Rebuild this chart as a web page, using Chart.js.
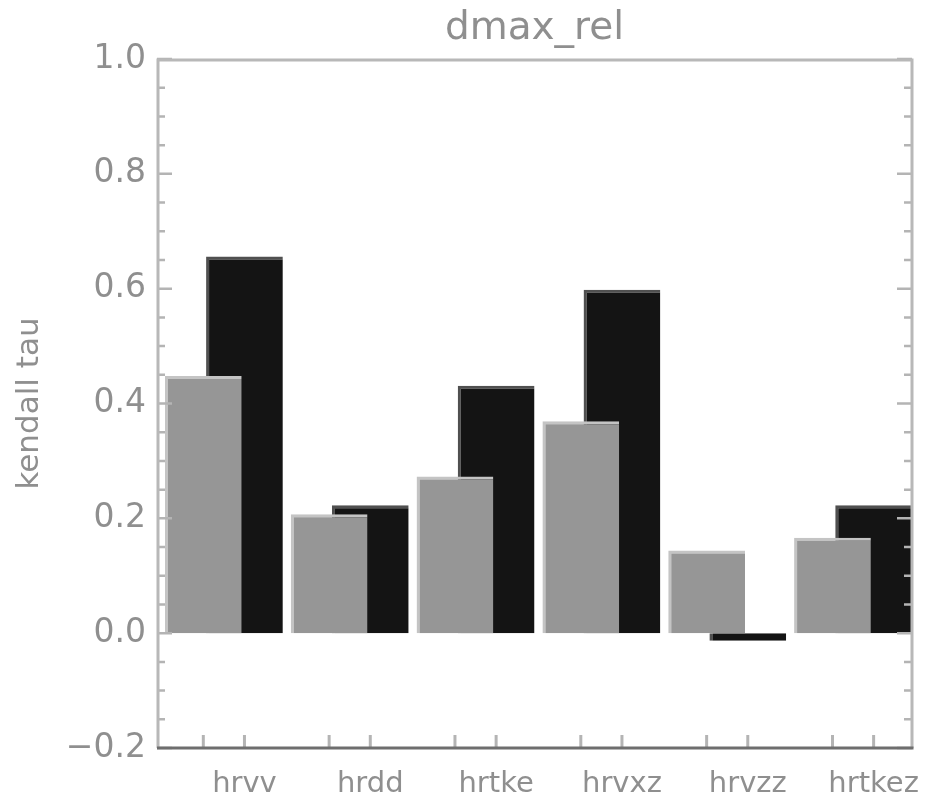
<!DOCTYPE html>
<html>
<head>
<meta charset="utf-8">
<script src="https://cdn.jsdelivr.net/npm/chart.js@4.4.1/dist/chart.umd.min.js"></script>
<style>
  html, body { margin: 0; padding: 0; background: #fff; }
  #wrap { width: 926px; height: 801px; }
</style>
</head>
<body>
<div id="wrap"><canvas id="grafico"></canvas></div>
<script>
const categorias = ['hrvv', 'hrdd', 'hrtke', 'hrvxz', 'hrvzz', 'hrtkez'];
const serieGris = [0.448, 0.207, 0.273, 0.369, 0.144, 0.166];
const serieNegra = [0.656, 0.223, 0.431, 0.598, -0.013, 0.223];
const Y_MIN = -0.2, Y_MAX = 1.0, Y_STEP = 0.2, Y_MINOR = 0.05;

// posicion de cada barra dentro de su hueco (fraccion de categoria)
const POS_GRIS = 0.368, POS_NEGRA = 0.695, ANCHO = 0.61;
const TEXTO = '#8f8f8f';
const FUENTE = 'DejaVu Sans';

// marco y marcas hacia dentro, como en IDL
const marco = {
    id: 'marco',
    afterDatasetsDraw(chart) {
        const { ctx, chartArea: a, scales: { x, y } } = chart;
        ctx.save();
        ctx.lineCap = 'butt';
        ctx.strokeStyle = '#b4b4b4';
        ctx.lineWidth = 2.5;
        const n = Math.round((Y_MAX - Y_MIN) / Y_MINOR);
        for (let i = 0; i <= n; i++) {
            const py = y.getPixelForValue(Y_MIN + i * Y_MINOR);
            const len = i % 4 === 0 ? 15 : 8;
            ctx.beginPath();
            ctx.moveTo(a.left, py); ctx.lineTo(a.left + len, py);
            ctx.moveTo(a.right, py); ctx.lineTo(a.right - len, py);
            ctx.stroke();
        }
        ctx.lineWidth = 3;
        x.ticks.forEach(t => {
            const px = x.getPixelForValue(t.value);
            ctx.beginPath();
            ctx.moveTo(px, a.bottom); ctx.lineTo(px, a.bottom - 13);
            ctx.stroke();
        });
        ctx.strokeStyle = '#b8b8b8';
        ctx.beginPath();
        ctx.moveTo(a.left + 1, a.bottom);
        ctx.lineTo(a.left + 1, a.top + 1);
        ctx.lineTo(a.right, a.top + 1);
        ctx.lineTo(a.right, a.bottom);
        ctx.stroke();
        ctx.strokeStyle = '#6e6e6e';
        ctx.beginPath();
        ctx.moveTo(a.left, a.bottom); ctx.lineTo(a.right + 1.5, a.bottom);
        ctx.stroke();
        ctx.restore();
    }
};

const ctx = document.getElementById('grafico').getContext('2d');
const chart = new Chart(ctx, {
    type: 'bar',
    data: {
        datasets: [
            {
                label: 'gris',
                data: categorias.map((c, i) => ({ x: i + POS_GRIS, y: serieGris[i] })),
                backgroundColor: '#969696',
                borderColor: '#c4c4c4',
                borderWidth: { top: 3, left: 3, right: 0, bottom: 0 },
                grouped: false,
                categoryPercentage: 1,
                barPercentage: ANCHO / (POS_NEGRA - POS_GRIS)
            },
            {
                label: 'negra',
                data: categorias.map((c, i) => ({ x: i + POS_NEGRA, y: serieNegra[i] })),
                backgroundColor: '#141414',
                borderColor: '#505050',
                borderWidth: { top: 3, left: 3, right: 0, bottom: 0 },
                grouped: false,
                categoryPercentage: 1,
                barPercentage: ANCHO / (POS_NEGRA - POS_GRIS)
            }
        ]
    },
    options: {
        responsive: true,
        maintainAspectRatio: false,
        animation: false,
        layout: { padding: { left: 0, right: 14, top: 0, bottom: 0 } },
        plugins: {
            legend: { display: false },
            tooltip: { enabled: false },
            title: {
                display: true,
                fullSize: false,
                text: 'dmax_rel',
                color: TEXTO,
                font: { family: FUENTE, size: 39, weight: 'normal', lineHeight: 1 },
                padding: { top: 9, bottom: 11 }
            }
        },
        scales: {
            x: {
                type: 'linear',
                offset: false,
                min: 0,
                max: categorias.length,
                grid: { display: false, drawTicks: false, offset: false },
                border: { display: false },
                afterBuildTicks: s => {
                    s.ticks = categorias.flatMap((c, i) => [{ value: i + POS_GRIS }, { value: i + POS_NEGRA }]);
                },
                afterFit: s => {
                    s.height = 53;
                    s.paddingLeft = 0;
                    s.paddingRight = 0;
                },
                ticks: {
                    autoSkip: false,
                    maxRotation: 0,
                    padding: 22,
                    color: TEXTO,
                    font: { family: FUENTE, size: 29, lineHeight: 1 },
                    callback: (v, i) => i % 2 ? categorias[(i - 1) / 2] : ''
                }
            },
            y: {
                min: Y_MIN,
                max: Y_MAX,
                grid: { display: false, drawTicks: false },
                border: { display: false },
                afterFit: s => { s.width = 157; },
                ticks: {
                    stepSize: Y_STEP,
                    padding: 11,
                    color: TEXTO,
                    font: { family: FUENTE, size: 33 },
                    callback: v => (Math.abs(v) < 1e-9 ? 0 : v).toFixed(1).replace('-', '\u2212')
                },
                title: {
                    display: true,
                    text: 'kendall tau',
                    color: TEXTO,
                    font: { family: FUENTE, size: 31, lineHeight: 1 },
                    padding: { top: 14, bottom: 0 }
                }
            }
        }
    },
    plugins: [marco]
});
</script>
</body>
</html>
